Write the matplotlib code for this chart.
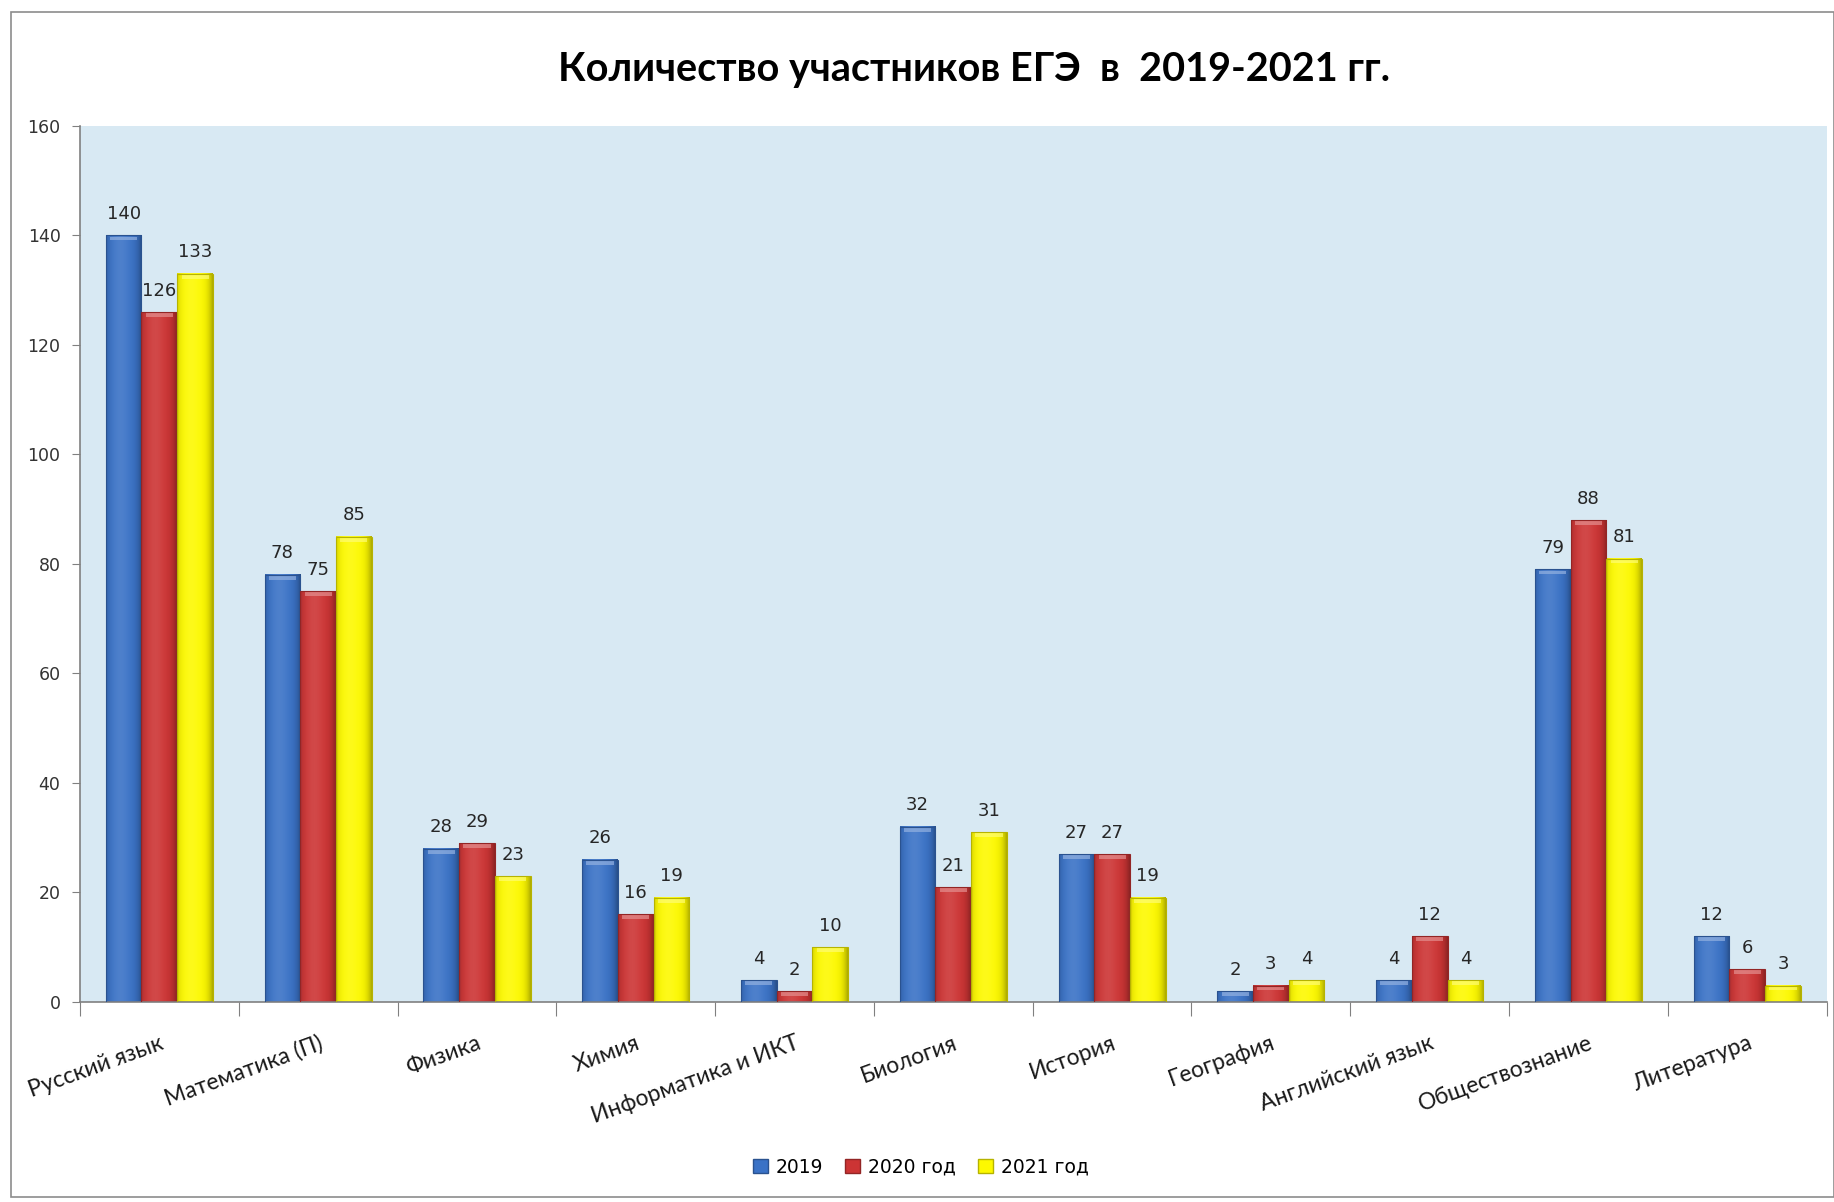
import numpy as np
import matplotlib
matplotlib.use("Agg")
import matplotlib.pyplot as plt
from matplotlib.colors import to_rgb
from matplotlib.patches import Patch, Rectangle

# ---------------------------------------------------------------------------
# data
# ---------------------------------------------------------------------------
subjects = ["Русский язык", "Математика (П)", "Физика", "Химия",
            "Информатика и ИКТ", "Биология", "История", "География",
            "Английский язык", "Обществознание", "Литература"]
series_names = ["2019", "2020 год", "2021 год"]
y2019 = [140, 78, 28, 26, 4, 32, 27, 2, 4, 79, 12]
y2020 = [126, 75, 29, 16, 2, 21, 27, 3, 12, 88, 6]
y2021 = [133, 85, 23, 19, 10, 31, 19, 4, 4, 81, 3]
yticks = [0, 20, 40, 60, 80, 100, 120, 140, 160]

colors = ["#3a72c6", "#cc3434", "#fdf900"]
title = "Количество участников ЕГЭ  в  2019-2021 гг."


def shade(base, n=64):
    """horizontal 'cylinder' gradient for a bar"""
    c = np.array(to_rgb(base))
    t = np.linspace(0, 1, n)
    # soft light spot a bit left of centre, darker at the edges
    light = np.exp(-((t - 0.4) / 0.25) ** 2) * 0.10
    dark = (np.abs(t - 0.45) / 0.55) ** 4 * 0.32
    row = c[None, :] * (1 - dark[:, None]) + (1 - c[None, :]) * light[:, None]
    return np.clip(row, 0, 1)[None, :, :]


fig = plt.figure(figsize=(18.34, 12.02), dpi=100)
ax = fig.add_axes([0.0436, 0.1664, 0.9524, 0.7288])
ax.set_facecolor("#d8e9f3")

x = np.arange(len(subjects))
w = 0.225
all_series = [y2019, y2020, y2021]

for k, (vals, col) in enumerate(zip(all_series, colors)):
    img = shade(col)
    edge = tuple(np.array(to_rgb(col)) * 0.72)
    top = tuple(np.array(to_rgb(col)) * 0.55 + 0.45)
    for xi, v in zip(x, vals):
        x0 = xi + (k - 1) * w - w / 2
        ax.imshow(img, extent=(x0, x0 + w, 0, v), aspect="auto",
                  interpolation="bicubic", zorder=2)
        # light bevel at the top of the bar
        ax.add_patch(Rectangle((x0 + w * 0.12, v - min(v, 160) * 0 - 0.9), w * 0.76, 0.7,
                               fc=top, ec="none", alpha=0.7, zorder=2.5))
        ax.add_patch(Rectangle((x0, 0), w, v, fill=False, ec=edge, lw=0.8, zorder=3))
        ax.annotate(str(v), (x0 + w / 2, v), xytext=(0, 9), textcoords="offset points",
                    ha="center", va="bottom", fontsize=13, color="#262626",
                    family="DejaVu Sans", zorder=4)

ax.set_xlim(-0.5, len(subjects) - 0.5)
ax.set_ylim(0, 160)
ax.set_yticks(yticks)
ax.set_yticklabels([str(t) for t in yticks], fontsize=12.5, color="#333333")
ax.tick_params(axis="y", direction="out", length=6, color="#808080", pad=8)

# category boundaries as x ticks, labels as minor ticks
ax.set_xticks(np.arange(-0.5, len(subjects), 1.0))
ax.set_xticklabels([])
ax.tick_params(axis="x", which="major", direction="out", length=10, color="#808080")
ax.set_xticks(x, minor=True)
ax.set_xticklabels(subjects, minor=True, rotation=20, ha="right",
                   rotation_mode="anchor", fontsize=16.5, family="Lato", color="#1a1a1a")
ax.tick_params(axis="x", which="minor", length=0, pad=22)

for s in ["top", "right"]:
    ax.spines[s].set_visible(False)
for s in ["left", "bottom"]:
    ax.spines[s].set_color("#808080")
    ax.spines[s].set_linewidth(1.2)

fig.text(0.531, 0.942, title, ha="center", va="center", fontsize=28.5,
         fontweight="bold", family="Lato", color="#000000")

handles = [Patch(facecolor=c, edgecolor=tuple(np.array(to_rgb(c)) * 0.72)) for c in colors]
fig.legend(handles, series_names, loc="center", bbox_to_anchor=(0.502, 0.029), ncol=3,
           frameon=False, fontsize=13.5, handlelength=0.8, handleheight=0.8,
           handletextpad=0.4, columnspacing=1.2)

# outer chart border
fig.patches.append(Rectangle((0.006, 0.004), 0.994, 0.986, transform=fig.transFigure,
                             fill=False, ec="#8c8c8c", lw=1.2))

fig.savefig("out.png", dpi=100)
